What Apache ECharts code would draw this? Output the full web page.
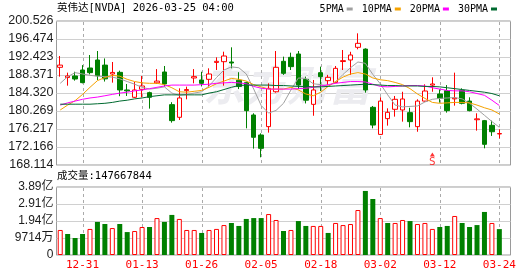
<!DOCTYPE html>
<html><head><meta charset="utf-8">
<style>html,body{margin:0;padding:0;background:#fff}#c{width:530px;height:276px}</style>
<script src="https://cdn.jsdelivr.net/npm/echarts@6/dist/echarts.min.js"></script>
</head><body><div id="c"></div>
<script>
const chartTitle = '英伟达[NVDA] 2026-03-25 04:00';
const volTitle = '成交量:147667844';
const dates = ['12-26','12-29','12-30','12-31','01-02','01-05','01-06','01-07','01-08','01-09','01-12','01-13','01-14','01-15','01-16','01-20','01-21','01-22','01-23','01-26','01-27','01-28','01-29','01-30','02-02','02-03','02-04','02-05','02-06','02-09','02-10','02-11','02-12','02-13','02-17','02-18','02-19','02-20','02-23','02-24','02-25','02-26','02-27','03-02','03-03','03-04','03-05','03-06','03-09','03-10','03-11','03-12','03-13','03-16','03-17','03-18','03-19','03-20','03-23','03-24'];
const labelDates = ['12-31','01-13','01-26','02-05','02-18','03-02','03-12','03-24'];
const opens  = [190.1,187.8,188.15,189.5,189.95,191.75,190.6,188.6,188.97,185.0, 183.35,185.15,184.4,186.6,189.05,181.7,178.85,184.85,187.7,187.25, 187.4,191.2,191.37,191.3,187.2,186.65,179.37,174.87,176.75,184.6, 191.45,192.35,193.1,187.4,181.77,188.9,187.1,186.7,191.4,191.75, 194.6,194.2,181.1,175.0,178.55,180.65,180.5,179.9,176.75,182.5, 186.1,184.1,184.85,183.0,184.9,182.5,178.3,178.1,177.05,175.1];
const closes = [190.6,188.15,187.47,186.65,188.9,188.2,187.5,188.95,185.0,184.8, 185.0,185.9,183.35,187.0,186.35,178.1,183.2,185.1,188.0,186.5, 188.6,191.45,192.65,191.07,185.8,180.35,174.35,171.87,185.37,190.1, 188.75,190.25,186.1,182.7,185.0,188.0,187.85,189.87,191.6,192.87, 195.5,185.0,177.1,182.5,179.97,182.9,182.97,177.87,182.5,184.77, 186.35,183.1,180.35,183.2,182.0,180.35,178.5,172.77,175.6,175.2];
const lows   = [188.0,185.97,187.1,186.5,188.5,187.25,186.9,186.65,183.6,183.65, 183.2,183.35,180.8,186.35,185.75,177.65,178.25,182.9,186.5,185.8, 185.75,189.5,185.97,189.87,185.2,176.37,171.8,169.84,175.4,184.4, 188.4,189.5,185.2,181.97,179.2,184.77,186.1,186.5,189.5,188.4, 194.15,184.4,176.37,174.87,176.97,179.0,177.87,176.6,175.6,182.37, 184.6,182.15,179.9,181.47,181.77,180.2,175.85,171.87,174.65,174.1];
const highs  = [192.65,188.9,189.1,190.6,192.87,193.77,192.1,191.3,189.35,186.35, 186.8,188.15,184.62,189.7,190.4,182.25,185.37,185.75,189.7,189.1, 189.87,192.35,193.62,194.6,189.0,186.87,179.75,175.24,186.5,193.77, 192.5,193.4,193.77,188.0,187.25,190.25,188.4,190.4,194.0,193.6, 197.75,194.37,181.4,183.35,180.87,183.65,184.6,181.0,182.9,186.27, 187.85,185.15,186.1,188.9,185.37,183.35,179.75,178.25,178.1,176.15];
const ma5  = [186.5,188.0,188.9,188.6,188.3,188.1,188.0,187.9,187.5,186.9, 186.3,185.6,185.2,185.4,185.7,184.3,183.8,184.0,184.3,184.6, 185.9,187.8,189.5,190.2,190.0,188.6,185.2,181.5,179.8,180.4, 182.0,185.0,187.7,187.6,186.4,186.2,185.9,186.8,188.5,190.0, 191.3,191.0,188.5,186.4,183.9,181.6,181.2,181.3,181.4,182.3, 182.9,183.1,183.2,183.3,183.0,182.0,180.7,179.3,177.9,176.6];
const ma10 = [180.5,181.6,182.6,184.0,185.6,187.1,187.8,188.3,188.1,187.4, 186.9,186.6,186.5,186.5,186.2,185.5,184.6,184.5,184.7,184.9, 185.6,186.4,187.0,187.6,187.4,187.0,186.2,185.7,185.2,185.2, 185.2,185.6,185.0,184.1,183.7,184.5,185.8,186.9,187.9,188.6, 188.9,188.6,187.7,187.3,187.1,186.7,186.2,185.3,184.1,183.1, 182.2,182.0,182.1,182.2,182.2,182.1,181.6,181.0,180.5,179.6];
const ma20 = [181.6,182.1,182.5,182.9,183.2,183.4,183.7,184.0,184.3,184.5, 184.8,185.0,185.3,185.6,185.9,186.1,186.1,186.1,186.1,186.2, 186.3,186.5,186.6,186.7,186.6,186.4,185.8,185.4,185.2,185.2, 185.2,185.2,185.3,185.4,185.6,185.9,186.2,186.5,186.7,186.9, 186.9,186.8,186.3,185.8,185.7,185.8,185.9,186.0,186.0,185.9, 185.5,185.2,184.9,184.8,184.8,184.6,184.2,183.8,182.7,181.5];
const ma30 = [181.8,181.8,181.8,181.8,181.8,181.9,182.0,182.2,182.5,182.7, 183.0,183.2,183.5,183.7,183.9,183.9,183.9,183.9,183.9,183.9, 184.3,184.6,185.1,185.6,186.0,186.1,186.1,186.1,186.1,186.0, 186.0,185.9,185.8,185.8,185.7,185.7,185.8,185.9,186.0,186.1, 186.2,186.3,186.2,186.1,186.0,186.0,185.9,185.9,185.9,185.8, 185.8,185.7,185.5,185.3,185.1,184.9,184.7,184.5,184.2,183.7];
// volume in 亿 shares
const volumes = [1.43,1.20,0.97,1.20,1.49,1.89,1.77,1.54,1.77,1.31, 1.37,1.60,1.60,2.11,1.89,2.29,2.06,1.43,1.43,1.26, 1.43,1.49,1.71,1.83,1.66,2.06,2.11,2.11,2.34,2.00, 1.37,1.43,1.94,1.66,1.66,1.66,1.26,1.83,1.71,1.77, 2.57,3.66,3.20,2.11,1.83,1.83,2.00,1.94,1.77,1.83, 1.49,1.60,1.66,2.23,1.83,1.60,1.71,2.46,1.83,1.48];
const volUp = [1,0,0,0,1,0,0,1,0,0, 1,1,0,1,0,0,1,1,1,0, 1,1,1,0,0,0,0,0,1,1, 0,1,0,0,1,1,0,1,1,1, 1,0,0,1,0,1,1,0,1,1, 1,0,0,1,0,0,0,0,1,0];
const priceTicks = ['168.114','172.166','176.217','180.269','184.320','188.371','192.423','196.474','200.526'];
const volTicks = ['0','9714万','1.94亿','2.91亿','3.89亿'];
const volStep = 0.9714;
const signalDate = '03-11';
const signalText = 'S';

const priceMin = parseFloat(priceTicks[0]);
const priceMax = parseFloat(priceTicks[priceTicks.length - 1]);
const volMax = volStep * (volTicks.length - 1);
const cats = dates.concat(['']);
const labelIdx = labelDates.map(d => dates.indexOf(d));
const RED = '#ff0000', GREEN = '#008000';
const GUIDE = '#aaaaaa';
const monoFont = "'DejaVu Sans Mono','Noto Sans CJK SC',monospace";
const sansFont = "'Liberation Sans','Noto Sans CJK SC',sans-serif";

const chart = echarts.init(document.getElementById('c'), null, {renderer: 'canvas'});
const gridL = 56.5, gridW = 454;
const grids = [
  {left: gridL, top: 21, width: gridW, height: 144, show: true, borderColor: '#9a9a9a', borderWidth: 1},
  {left: gridL, top: 187, width: gridW, height: 68, show: true, borderColor: '#9a9a9a', borderWidth: 1}
];
const option = {
  animation: false,
  backgroundColor: '#fff',
  title: [
    {text: chartTitle, left: 57, top: 3, padding: 0, textStyle: {fontSize: 10.5, fontWeight: 'normal', color: '#000', fontFamily: monoFont}},
    {text: volTitle, left: 57, top: 171, padding: 0, textStyle: {fontSize: 10.5, fontWeight: 'normal', color: '#000', fontFamily: monoFont}}
  ],
  legend: {
    right: 33, top: 4, padding: 0, align: 'right', icon: 'rect', itemWidth: 6, itemHeight: 3, itemGap: 9,
    textStyle: {fontSize: 10, color: '#000', fontFamily: monoFont, padding: [0, -2, 0, 0]},
    data: ['5PMA', '10PMA', '20PMA', '30PMA']
  },
  grid: grids,
  xAxis: [
    {type: 'category', gridIndex: 0, data: cats, boundaryGap: true, axisLine: {show: false}, axisTick: {show: false}, axisLabel: {show: false}, splitLine: {show: false}},
    {type: 'category', gridIndex: 1, data: cats, boundaryGap: true, axisLine: {show: false}, axisTick: {show: false}, splitLine: {show: false},
     axisLabel: {interval: (i, v) => labelDates.includes(v), color: RED, fontSize: 11, margin: 5, fontFamily: monoFont}}
  ],
  yAxis: [
    {type: 'value', gridIndex: 0, min: 0, max: priceTicks.length - 1, interval: 1,
     axisLine: {show: false}, axisTick: {show: false},
     axisLabel: {formatter: v => priceTicks[Math.round(v)], color: '#1c1c1c', fontSize: 12.5, margin: 3, fontFamily: sansFont},
     splitLine: {lineStyle: {color: '#d0d0d0', width: 1}}},
    {type: 'value', gridIndex: 0, min: priceMin, max: priceMax, show: false, splitLine: {show: false}},
    {type: 'value', gridIndex: 1, min: 0, max: volMax, interval: volStep,
     axisLine: {show: false}, axisTick: {show: false},
     axisLabel: {formatter: v => volTicks[Math.round(v / volStep)], color: '#1c1c1c', fontSize: 12, margin: 3, fontFamily: sansFont},
     splitLine: {lineStyle: {color: '#d0d0d0', width: 1}}}
  ],
  series: [
    {type: 'candlestick', name: 'K', xAxisIndex: 0, yAxisIndex: 1, barWidth: 5,
     data: dates.map((d, i) => [opens[i], closes[i], lows[i], highs[i]]),
     itemStyle: {color: '#ffffff', color0: GREEN, borderColor: RED, borderColor0: GREEN, borderWidth: 1}, z: 2},
    {type: 'line', name: '5PMA', xAxisIndex: 0, yAxisIndex: 1, data: ma5, symbol: 'none', color: '#a0a0a0', lineStyle: {width: 1, color: '#a0a0a0'}, z: 3},
    {type: 'line', name: '10PMA', xAxisIndex: 0, yAxisIndex: 1, data: ma10, symbol: 'none', color: '#f5a200', lineStyle: {width: 1, color: '#f5a200'}, z: 3},
    {type: 'line', name: '20PMA', xAxisIndex: 0, yAxisIndex: 1, data: ma20, symbol: 'none', color: '#ff00ff', lineStyle: {width: 1, color: '#ff00ff'}, z: 3},
    {type: 'line', name: '30PMA', xAxisIndex: 0, yAxisIndex: 1, data: ma30, symbol: 'none', color: '#006a30', lineStyle: {width: 1, color: '#006a30'}, z: 3},
    {type: 'scatter', name: 'signal', xAxisIndex: 0, yAxisIndex: 1, symbol: 'triangle', symbolSize: [5, 4],
     itemStyle: {color: RED}, data: [[signalDate, priceMin + (priceMax - priceMin) * 0.073]],
     label: {show: true, position: 'bottom', distance: 0, formatter: signalText, color: RED, fontSize: 11, fontFamily: monoFont}, z: 4},
    {type: 'bar', name: 'VOL', xAxisIndex: 1, yAxisIndex: 2, barWidth: 5, z: 2,
     data: volumes.map((v, i) => ({value: v, itemStyle: volUp[i] ? {color: '#ffffff', borderColor: RED, borderWidth: 1} : {color: GREEN}}))}
  ]
};
chart.setOption(option);

// dashed vertical guides at labelled dates, x taken from the category axis scale
const guides = [{
  type: 'text', left: 203, top: 64, z: 0, silent: true,
  style: {text: '东方财富', font: 'italic bold 42px "Noto Sans CJK SC"', fill: '#ececf0'}
}];
labelIdx.forEach(i => {
  [0, 1].forEach(g => {
    const x = chart.convertToPixel({xAxisIndex: g}, i);
    if (typeof x !== 'number' || isNaN(x)) return;
    const gr = grids[g];
    const xx = Math.round(x);
    for (let y = gr.top + 1; y < gr.top + gr.height; y += 6) {
      guides.push({type: 'rect', silent: true, z: 1,
        shape: {x: xx, y: y, width: 1, height: Math.min(3, gr.top + gr.height - y)},
        style: {fill: GUIDE}});
    }
  });
});
chart.setOption({graphic: {elements: guides}});
</script>
</body></html>
